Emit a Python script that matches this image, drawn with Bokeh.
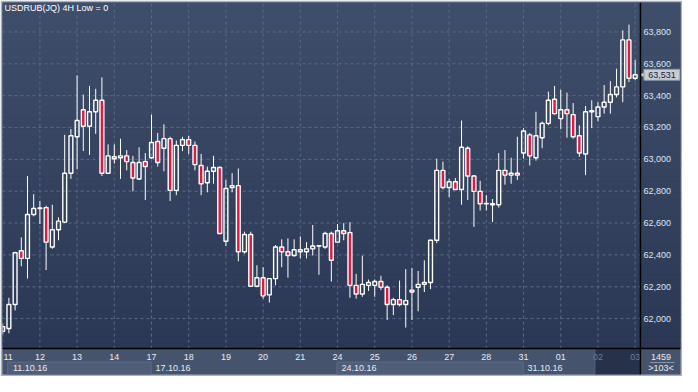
import numpy as np
from bokeh.plotting import figure
from bokeh.models import Range1d, Span, Label
from bokeh.core.properties import value
from bokeh.embed import file_html
from bokeh.resources import INLINE

# ---------------- data ----------------
title_text = "USDRUB(JQ) 4H Low = 0"
day_labels = ["11", "12", "13", "14", "17", "18", "19", "20", "21",
              "24", "25", "26", "27", "28", "31", "01", "02", "03"]
bars_per_day = 6
week_labels = ["11.10.16", "17.10.16", "24.10.16", "31.10.16"]
week_start_day = [0, 4, 9, 14]          # index into day_labels
dim_from_day = 16                        # days shown in the darker tail zone
price_ticks = [62000, 62200, 62400, 62600, 62800, 63000, 63200, 63400, 63600, 63800]
total_bars_label = "1459"

opens = [61920, 61938, 62089, 62426, 62378, 62654, 62691, 62697, 62450, 62558,
         62606, 62913, 63142, 63311, 63208, 63299, 63371, 62913, 63004, 63010,
         63022, 62980, 62877, 62986, 63010, 63112, 63070, 63130, 62805, 63088,
         63124, 63088, 62961, 62853, 62925, 62949, 62486, 62823, 62835, 62420,
         62528, 62203, 62257, 62149, 62251, 62450, 62420, 62396, 62420, 62420,
         62438, 62456, 62450, 62534, 62480, 62552, 62540, 62209, 62155, 62209,
         62209, 62233, 62197, 62089, 62119, 62089, 62179, 62197, 62215, 62227,
         62492, 62931, 62823, 62859, 62811, 63070, 62895, 62799, 62721, 62715,
         62715, 62931, 62901, 62913, 63040, 63154, 63010, 63136, 63226, 63377,
         63256, 63311, 63281, 63148, 63034, 63299, 63268, 63329, 63359, 63407,
         63455, 63750, 63509]
highs = [61968, 62131, 62420, 62510, 62895, 62781, 62739, 62709, 62715, 62636,
         63154, 63190, 63527, 63407, 63461, 63443, 63515, 63094, 63094, 63130,
         63058, 63022, 63076, 63040, 63281, 63166, 63220, 63142, 63118, 63142,
         63148, 63112, 63034, 62955, 63022, 62955, 62871, 62913, 62943, 62546,
         62546, 62335, 62323, 62255, 62462, 62498, 62504, 62498, 62516, 62480,
         62588, 62462, 62546, 62546, 62594, 62600, 62606, 62281, 62396, 62245,
         62245, 62269, 62209, 62131, 62239, 62311, 62317, 62299, 62366, 62496,
         63004, 62986, 62877, 62883, 63244, 63082, 62901, 62865, 62775, 62751,
         63040, 63058, 63010, 63142, 63196, 63166, 63299, 63238, 63425, 63461,
         63437, 63419, 63353, 63214, 63335, 63371, 63359, 63467, 63491, 63569,
         63810, 63846, 63624]
lows = [61902, 61908, 62052, 62329, 62251, 62642, 62594, 62305, 62438, 62492,
        62600, 62877, 62937, 63052, 63028, 63160, 62895, 62907, 62974, 62877,
        62931, 62799, 62871, 62745, 63004, 62955, 62925, 62739, 62775, 63052,
        63034, 62931, 62775, 62793, 62847, 62530, 62456, 62793, 62360, 62408,
        62200, 62197, 62125, 62101, 62209, 62323, 62257, 62390, 62378, 62378,
        62396, 62275, 62438, 62233, 62478, 62492, 62131, 62125, 62137, 62173,
        62137, 62179, 61992, 62022, 62077, 61944, 61992, 62046, 62167, 62185,
        62474, 62811, 62763, 62808, 62715, 62745, 62576, 62679, 62679, 62606,
        62697, 62841, 62847, 62871, 63004, 62961, 62992, 63070, 63214, 63281,
        63190, 63136, 63130, 63016, 62901, 63196, 63238, 63287, 63287, 63389,
        63359, 63485, 63497]
closes = [61950, 62089, 62414, 62378, 62654, 62691, 62695, 62480, 62558, 62612,
          62913, 63148, 63244, 63208, 63299, 63371, 62913, 63022, 63016, 63022,
          62986, 62883, 62980, 62955, 63106, 62980, 63130, 62805, 63088, 63124,
          63088, 62967, 62847, 62925, 62949, 62534, 62817, 62835, 62420, 62528,
          62203, 62257, 62143, 62251, 62450, 62420, 62396, 62432, 62432, 62438,
          62456, 62458, 62534, 62366, 62552, 62534, 62209, 62155, 62215, 62227,
          62233, 62197, 62089, 62119, 62089, 62113, 62167, 62215, 62227, 62492,
          62931, 62823, 62859, 62811, 63076, 62895, 62799, 62721, 62723, 62721,
          62931, 62901, 62913, 62901, 63178, 63022, 63148, 63226, 63371, 63287,
          63311, 63287, 63142, 63040, 63299, 63305, 63329, 63359, 63407, 63455,
          63750, 63509, 63531]

# ---------------- layout (reference-picture pixels -> data units) ----------------
def px_x(px):
    return (px - 2.2) / 6.347

def px_y(py):
    return 63996.9 - 6.02 * py

W, H = 682, 376
X_START, X_PLOT_END, X_END = px_x(2), px_x(655), px_x(696)
Y_TOP, Y_PLOT_BOTTOM, Y_BOTTOM = px_y(2), px_y(363), px_y(390)
ROW1_Y, ROW2_Y, ROW2_TOP = px_y(371.5), px_y(383.5), px_y(377)
FONT = "Liberation Sans"
FS = "9px"
RED = "#e3173f"
TEXT = "#e6ecf4"
GRID = "#586a8a"

o = np.array(opens, float); h = np.array(highs, float)
l = np.array(lows, float); c = np.array(closes, float)
idx = np.arange(len(o))
top = np.maximum(o, c); bot = np.minimum(o, c)
up = c >= o

p = figure(width=W, height=H, x_range=Range1d(X_START, X_END),
           y_range=Range1d(Y_BOTTOM, Y_TOP), x_axis_location=None, y_axis_location=None,
           output_backend="svg", toolbar_location=None, min_border=2,
           background_fill_color="#35435f", border_fill_color="#aab2bf",
           outline_line_color=None)
for g in p.grid:
    g.visible = False

# gradient background (price area and price-scale strip)
n_bands = 60
edges = np.linspace(Y_PLOT_BOTTOM, Y_TOP, n_bands + 1)
top_rgb = np.array([63, 78, 106]); bot_rgb = np.array([43, 56, 85])
t = (np.arange(n_bands) + 0.5) / n_bands
band_cols = ["#%02x%02x%02x" % tuple(np.round(bot_rgb + (top_rgb - bot_rgb) * ti).astype(int)) for ti in t]
p.quad(left=X_START, right=X_END, bottom=edges[:-1], top=edges[1:],
       fill_color=band_cols, line_color=band_cols)

# dashed grid inside the price area
day_idx = np.arange(len(day_labels)) * bars_per_day
p.segment(x0=X_START, x1=X_PLOT_END, y0=price_ticks, y1=price_ticks,
          line_color=GRID, line_dash="3 3", line_width=1)
p.segment(x0=day_idx, x1=day_idx, y0=Y_PLOT_BOTTOM, y1=Y_TOP,
          line_color=GRID, line_dash="3 3", line_width=1)

# price scale labels
p.text(x=px_x(658), y=price_ticks, text=[f"{v:,}" for v in price_ticks],
       text_align="left", text_baseline="middle", text_color="#dbe6f4",
       text_font=value(FONT), text_font_size=FS)

# date strip
p.quad(left=X_START, right=X_PLOT_END, bottom=Y_BOTTOM, top=Y_PLOT_BOTTOM,
       fill_color="#45536d", line_color=None)
ws = np.array(week_start_day) * bars_per_day
we = np.append(ws[1:], len(o) + 6)
box_l = np.maximum(ws - 0.1, 0.8)
sel = np.arange(len(ws)) % 2 == 0
p.quad(left=box_l[sel], right=(we - 0.05)[sel], bottom=Y_BOTTOM, top=ROW2_TOP,
       fill_color="#4f5d78", line_color="#5c6b86")
p.quad(left=dim_from_day * bars_per_day - 0.5, right=X_PLOT_END, bottom=Y_BOTTOM,
       top=Y_PLOT_BOTTOM, fill_color="#27324a", line_color="#56627a")

day_cols = [TEXT if i < dim_from_day else "#6d7b95" for i in range(len(day_labels))]
clipped = day_idx < X_START + 1
p.text(x=X_START, y=ROW1_Y, text=[d for d, k in zip(day_labels, clipped) if k],
       x_offset=1, text_align="left", text_baseline="middle", text_color=TEXT,
       text_font=value(FONT), text_font_size=FS)
p.text(x=day_idx[~clipped], y=ROW1_Y, text=[d for d, k in zip(day_labels, clipped) if not k],
       text_align="center", text_baseline="middle",
       text_color=[cc for cc, k in zip(day_cols, clipped) if not k],
       text_font=value(FONT), text_font_size=FS)
p.text(x=np.maximum(ws, 1), y=ROW2_Y, text=week_labels, text_align="left",
       text_baseline="middle", x_offset=4, text_color=TEXT, text_font=value(FONT),
       text_font_size=FS)

# corner box
p.quad(left=X_PLOT_END, right=X_END, bottom=Y_BOTTOM, top=Y_PLOT_BOTTOM,
       fill_color="#45536d", line_color=None)
p.segment(x0=px_x(665), x1=px_x(690), y0=px_y(377.5), y1=px_y(377.5),
          line_color="#8593ab", line_width=1)
p.text(x=px_x(676), y=[ROW1_Y, ROW2_Y], text=[total_bars_label, f">{len(opens)}<"],
       text_align="center", text_baseline="middle", text_color=TEXT,
       text_font=value(FONT), text_font_size=FS)

# separators
p.add_layout(Span(location=Y_PLOT_BOTTOM, dimension="width", line_color="black", line_width=1.5))
p.add_layout(Span(location=X_PLOT_END, dimension="height", line_color="black", line_width=1.5))

# candles
p.segment(x0=idx, y0=h, x1=idx, y1=top, line_color="white", line_width=1)
p.segment(x0=idx, y0=bot, x1=idx, y1=l, line_color="white", line_width=1)
p.vbar(x=idx[up], top=top[up], bottom=bot[up], width=0.62, fill_alpha=0,
       line_color="white", line_width=1.4)
p.vbar(x=idx[~up], top=top[~up], bottom=bot[~up], width=0.62, fill_color=RED,
       line_color="white", line_width=1.4)

# current price tag
p.scatter(x=[px_x(658.5)], y=[closes[-1]], marker="triangle", angle=np.pi / 2,
          size=7, fill_color="#c8ccd3", line_color=None)
p.rect(x=[px_x(677)], y=[closes[-1]], width=36, height=11, width_units="screen",
       height_units="screen", fill_color="#c8ccd3", line_color="#8a94a6")
p.text(x=[px_x(677)], y=[closes[-1]], text=[f"{closes[-1]:,}"], text_align="center",
       text_baseline="middle", text_color="#1c2333", text_font=value(FONT),
       text_font_size=FS)

# title
p.add_layout(Label(x=X_START, y=Y_TOP, x_offset=2, text=title_text, text_color="white",
                   text_font=FONT, text_font_size="9px", text_baseline="top"))

open("out.html", "w").write(file_html(p, INLINE))
